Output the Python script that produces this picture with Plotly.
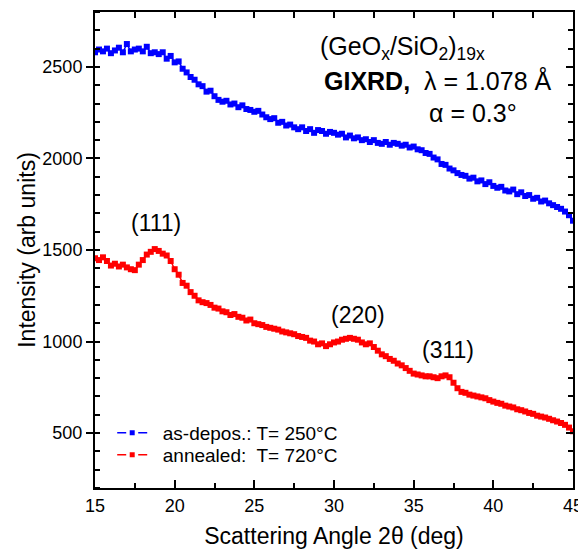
import plotly.graph_objects as go

# Scattering angle grid (deg), 0.25 deg step from 15 to 45
angle_start = 15.0
angle_step = 0.25
n_points = 121
angle = [angle_start + angle_step * i for i in range(n_points)]

as_deposited = [
    2580, 2595, 2585, 2600, 2575, 2590, 2605, 2580, 2625, 2585,
    2595, 2600, 2585, 2610, 2575, 2580, 2570, 2580, 2545, 2560,
    2525, 2530, 2490, 2470, 2445, 2430, 2405, 2395, 2365, 2370,
    2340, 2320, 2310, 2315, 2295, 2300, 2280, 2290, 2270, 2265,
    2255, 2260, 2240, 2225, 2215, 2220, 2195, 2200, 2180, 2185,
    2170, 2160, 2170, 2150, 2160, 2140, 2155, 2150, 2135, 2145,
    2140, 2130, 2135, 2115, 2125, 2110, 2115, 2100, 2105, 2090,
    2100, 2085, 2080, 2090, 2075, 2085, 2080, 2070, 2075, 2060,
    2065, 2050, 2045, 2030, 2025, 2005, 1995, 1970, 1965, 1945,
    1935, 1920, 1910, 1905, 1890, 1895, 1875, 1880, 1860, 1870,
    1850, 1840, 1845, 1825, 1820, 1830, 1805, 1815, 1795, 1800,
    1780, 1785, 1765, 1770, 1755, 1745, 1735, 1725, 1710, 1690,
    1660,
]

annealed = [
    1455, 1445, 1460, 1440, 1415, 1425, 1410, 1420, 1405, 1395,
    1390, 1420, 1445, 1475, 1490, 1505, 1495, 1480, 1470, 1440,
    1395, 1365, 1320, 1305, 1270, 1250, 1225, 1215, 1210, 1200,
    1185, 1180, 1165, 1160, 1145, 1150, 1135, 1130, 1115, 1120,
    1100, 1095, 1090, 1080, 1075, 1070, 1065, 1055, 1050, 1045,
    1040, 1030, 1025, 1020, 1005, 1000, 985, 990, 975, 985,
    995, 1000, 1010, 1015, 1020, 1015, 1010, 995, 985, 990,
    970, 950, 930, 920, 905, 895, 880, 870, 855, 840,
    825, 820, 815, 810, 810, 805, 800, 810, 815, 805,
    775, 745, 725, 720, 710, 705, 700, 695, 690, 680,
    672, 665, 660, 650, 645, 640, 630, 625, 618, 610,
    605, 595, 590, 585, 578, 570, 563, 555, 545, 530,
    510,
]

series_names = ["&nbsp;&nbsp;as-depos.: T= 250°C", "&nbsp;&nbsp;annealed:&nbsp; T= 720°C"]
series_colors = ["#0000FF", "#FF0000"]
legend_ids = ["legend", "legend2"]

peak_labels = ["(111)", "(220)", "(311)"]
peak_x = [18.8, 31.5, 37.15]
peak_y = [1645, 1145, 955]

x_ticks = [15, 20, 25, 30, 35, 40, 45]
y_ticks = [500, 1000, 1500, 2000, 2500]

FONT = "Liberation Sans, Arial, sans-serif"

fig = go.Figure()
for name, ys, col, lg in zip(series_names, [as_deposited, annealed], series_colors, legend_ids):
    fig.add_trace(go.Scatter(
        x=angle, y=ys, name=name, mode="lines+markers",
        line=dict(color=col, width=1.5),
        marker=dict(symbol="square", size=6, color=col),
        showlegend=False,
    ))
    # legend entry: dashed line segments with a small square
    fig.add_trace(go.Scatter(
        x=[None], y=[None], name=name, mode="lines+markers",
        line=dict(color=col, width=1.5, dash="9px,12px"),
        marker=dict(symbol="square", size=5, color=col),
        legend=lg, showlegend=True,
    ))

# invisible trace to activate mirror axes (top / right)
fig.add_trace(go.Scatter(x=[15], y=[200], xaxis="x2", yaxis="y2",
                         mode="markers", marker=dict(opacity=0),
                         showlegend=False, hoverinfo="skip"))

for txt, xx, yy in zip(peak_labels, peak_x, peak_y):
    fig.add_annotation(x=xx, y=yy, text=txt, showarrow=False,
                       xanchor="center", yanchor="middle",
                       font=dict(size=23, color="black", family=FONT))

fig.add_annotation(x=29.0, y=2602, xanchor="left", yanchor="middle",
                   text="(GeO<sub>x</sub>/SiO<sub>2</sub>)<sub>19x</sub>",
                   showarrow=False, font=dict(size=25, color="black", family=FONT))
fig.add_annotation(x=29.25, y=2427, xanchor="left", yanchor="middle",
                   text="<b>GIXRD,</b>&nbsp;&nbsp;λ = 1.078 Å",
                   showarrow=False, font=dict(size=25, color="black", family=FONT))
fig.add_annotation(x=35.84, y=2247, xanchor="left", yanchor="middle",
                   text="α = 0.3°",
                   showarrow=False, font=dict(size=25, color="black", family=FONT))

# page body has an 8px default margin: figure is sized/offset to compensate
PLOT_H = 476
legend_common = dict(xanchor="left", yanchor="middle", bgcolor="rgba(0,0,0,0)",
                     font=dict(size=19, family=FONT, color="black"),
                     itemsizing="trace", borderwidth=0)

fig.update_layout(
    width=578, height=541,
    margin=dict(l=87, r=13, t=4, b=61),
    paper_bgcolor="white", plot_bgcolor="white",
    font=dict(family=FONT, color="black", size=18),
    showlegend=True,
    legend=dict(x=0.036, y=(488 - 433) / PLOT_H, **legend_common),
    legend2=dict(x=0.036, y=(488 - 455) / PLOT_H, **legend_common),
    xaxis=dict(range=[15, 45], tickvals=x_ticks, ticks="inside", ticklen=8,
               tickwidth=1.5, tickcolor="black", automargin=False,
               minor=dict(dtick=2.5, ticks="inside", ticklen=5, tickcolor="black", tickwidth=1.5),
               showline=True, linecolor="black", linewidth=2, showgrid=False,
               zeroline=False, tickfont=dict(size=18),
               title=dict(text="Scattering Angle 2θ (deg)", font=dict(size=23), standoff=14)),
    yaxis=dict(range=[200, 2800], tickvals=y_ticks, ticks="outside", ticklen=7,
               tickwidth=1.5, tickcolor="black", automargin=False,
               minor=dict(dtick=100, ticks="inside", ticklen=5, tickcolor="black", tickwidth=1.5),
               showline=True, linecolor="black", linewidth=2, showgrid=False,
               zeroline=False, tickfont=dict(size=18),
               title=dict(text="Intensity (arb units)", font=dict(size=23), standoff=0)),
    xaxis2=dict(range=[15, 45], overlaying="x", side="top", anchor="y",
                dtick=2.5, tick0=15, ticks="inside", ticklen=6, tickwidth=1.5,
                tickcolor="black", showticklabels=False, showline=True, automargin=False,
                linecolor="black", linewidth=2, showgrid=False, zeroline=False),
    yaxis2=dict(range=[200, 2800], overlaying="y", side="right", anchor="x",
                tickvals=y_ticks, ticks="inside", ticklen=7, tickwidth=1.5,
                tickcolor="black", showticklabels=False, showline=True, automargin=False,
                minor=dict(dtick=100, ticks="inside", ticklen=5, tickcolor="black", tickwidth=1.5),
                linecolor="black", linewidth=2, showgrid=False, zeroline=False),
)

fig.write_html("out.html")
